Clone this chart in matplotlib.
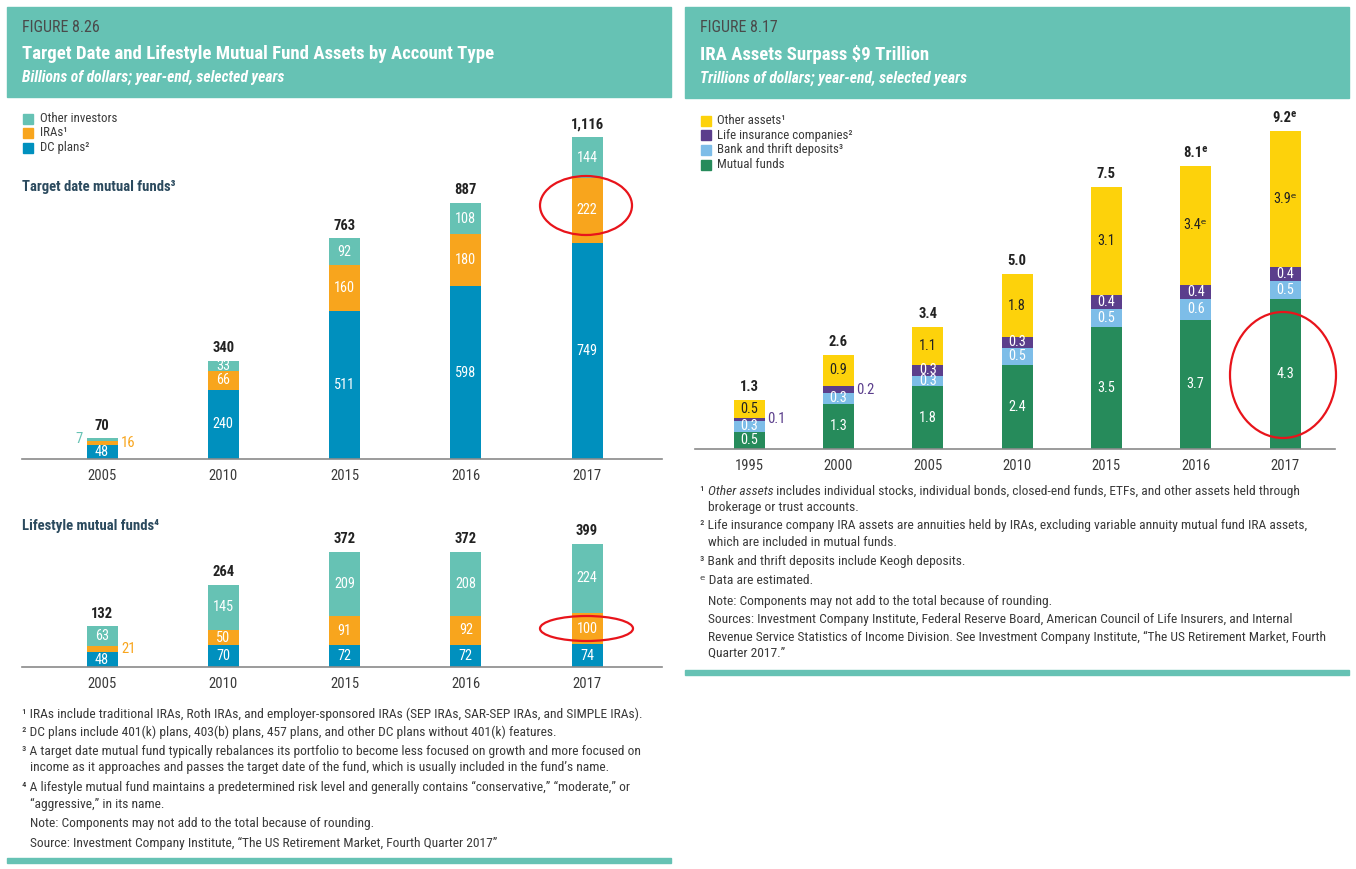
import matplotlib
matplotlib.use("Agg")
import matplotlib.pyplot as plt
from matplotlib import font_manager as fm
from matplotlib.patches import Rectangle, Ellipse

# ---------------- data ----------------
td_years = ['2005', '2010', '2015', '2016', '2017']
td_dc = [48, 240, 511, 598, 749]
td_ira = [16, 66, 160, 180, 222]
td_other = [7, 33, 92, 108, 144]
td_total = [70, 340, 763, 887, 1116]

ls_years = ['2005', '2010', '2015', '2016', '2017']
ls_dc = [48, 70, 72, 72, 74]
ls_ira = [21, 50, 91, 92, 100]
ls_other = [63, 145, 209, 208, 224]
ls_total = [132, 264, 372, 372, 399]

ira_years = ['1995', '2000', '2005', '2010', '2015', '2016', '2017']
ira_mf = [0.5, 1.3, 1.8, 2.4, 3.5, 3.7, 4.3]
ira_bank = [0.3, 0.3, 0.3, 0.5, 0.5, 0.6, 0.5]
ira_life = [0.1, 0.2, 0.3, 0.3, 0.4, 0.4, 0.4]
ira_other = [0.5, 0.9, 1.1, 1.8, 3.1, 3.4, 3.9]
ira_total = [1.3, 2.6, 3.4, 5.0, 7.5, 8.1, 9.2]
ira_estimated = [False, False, False, False, False, True, True]

# ---------------- style ----------------
avail = {f.name for f in fm.fontManager.ttflist}
base = 'DejaVu Sans'
for cand in ['Liberation Sans Narrow', 'Roboto Condensed', 'Open Sans Condensed', 'Lato']:
    if cand in avail:
        base = cand
        break
FAM = [base, 'DejaVu Sans']
plt.rcParams['font.family'] = FAM

TEAL = '#66C2B4'
ORANGE = '#F8A51D'
BLUE = '#0090BE'
YELLOW = '#FDD20B'
PURPLE = '#5B3E8C'
LBLUE = '#7DBDE8'
GREEN = '#268B5B'
TXT = '#3a3a3a'
DARK = '#222222'
SEC = '#2b4a5e'

W, H = 1356, 869
fig = plt.figure(figsize=(W / 100, H / 100), dpi=100)
fig.patch.set_facecolor('white')


def fx(x):
    return x / W


def fy(y):
    return 1 - y / H


def ftext(x, y, s, **kw):
    kw.setdefault('va', 'center')
    kw.setdefault('ha', 'left')
    return fig.text(fx(x), fy(y), s, **kw)


def frect(x0, y0, x1, y1, color):
    fig.patches.append(Rectangle((fx(x0), fy(y1)), (x1 - x0) / W, (y1 - y0) / H,
                                 transform=fig.transFigure, color=color, zorder=0))


def fell(cx, cy, w, h):
    fig.patches.append(Ellipse((fx(cx), fy(cy)), w / W, h / H, transform=fig.transFigure,
                               fill=False, edgecolor='#E8141B', lw=1.6, zorder=10))


def make_ax(left, right, top, base_y, centers, scale):
    n = len(centers)
    sp = (centers[-1] - centers[0]) / (n - 1)
    ax = fig.add_axes([fx(left), fy(base_y), (right - left) / W, (base_y - top) / H])
    ax.set_xlim(-(centers[0] - left) / sp, (right - centers[0]) / sp)
    ax.set_ylim(0, (base_y - top) / scale)
    ax.patch.set_alpha(0)
    for s in ['top', 'right', 'left']:
        ax.spines[s].set_visible(False)
    ax.spines['bottom'].set_color('#8a8a8a')
    ax.spines['bottom'].set_linewidth(1.2)
    ax.set_yticks([])
    ax.tick_params(axis='x', length=0, pad=7, labelsize=10.5, labelcolor=TXT)
    return ax, sp


# ---------------- headers ----------------
frect(7, 7, 671, 97, TEAL)
frect(685, 7, 1349, 98, TEAL)
ftext(22, 28, 'FIGURE 8.26', fontsize=11.5, color='#4a4a4a')
ftext(22, 54, 'Target Date and Lifestyle Mutual Fund Assets by Account Type', fontsize=13.5,
      color='white', fontweight='bold')
ftext(22, 77, 'Billions of dollars; year-end, selected years', fontsize=11.2, color='white',
      fontweight='bold', style='italic')
ftext(700, 28, 'FIGURE 8.17', fontsize=11.5, color='#4a4a4a')
ftext(700, 55, 'IRA Assets Surpass $9 Trillion', fontsize=13.5, color='white', fontweight='bold')
ftext(700, 78, 'Trillions of dollars; year-end, selected years', fontsize=11.2, color='white',
      fontweight='bold', style='italic')

# bottom rules
frect(7, 858, 671, 863, TEAL)
frect(685, 670, 1349, 675, TEAL)

# ---------------- legends ----------------
for (lab, col), yy in zip([('Other investors', TEAL), ('IRAs¹', ORANGE), ('DC plans²', BLUE)],
                          [119, 133, 148]):
    frect(23, yy - 5, 33, yy + 5, col)
    ftext(40, yy, lab, fontsize=9.3, color=TXT)
for (lab, col), yy in zip([('Other assets¹', YELLOW), ('Life insurance companies²', PURPLE),
                           ('Bank and thrift deposits³', LBLUE), ('Mutual funds', GREEN)],
                          [121, 135, 150, 165]):
    frect(701, yy - 5, 711, yy + 5, col)
    ftext(717, yy, lab, fontsize=9.3, color=TXT)

ftext(22, 187, 'Target date mutual funds³', fontsize=10.6, color=SEC, fontweight='bold')
ftext(22, 526, 'Lifestyle mutual funds⁴', fontsize=10.6, color=SEC, fontweight='bold')

LBL = dict(fontsize=10.3, ha='center', va='center')

CUR = {'ira': False}


def fmt(v):
    return f'{v:.1f}' if isinstance(v, float) else f'{v:,}'


def ira_flag(i):
    return CUR['ira'] and ira_estimated[i]


def stacked(ax, sp, bw_px, series, colors, txtcolors, totals, total_fmt, outside):
    n = len(series[0])
    bw = bw_px / sp
    x = list(range(n))
    bottoms = [0] * n
    for k, (vals, col, tc) in enumerate(zip(series, colors, txtcolors)):
        ax.bar(x, vals, bw, bottom=bottoms, color=col, linewidth=0)
        for i, v in enumerate(vals):
            mid = bottoms[i] + v / 2
            key = (k, i)
            if key in outside:
                side, ocol = outside[key]
                if side == 'r':
                    ax.text(i + bw / 2 + 0.03, mid, fmt(v), color=ocol, fontsize=10.5,
                            ha='left', va='center')
                else:
                    ax.text(i - bw / 2 - 0.03, mid, fmt(v), color=ocol, fontsize=10.5,
                            ha='right', va='center')
            else:
                lab = fmt(v)
                if k == len(series) - 1 and ira_flag(i):
                    lab += 'ᵉ'
                ax.text(i, mid, lab, color=tc, **LBL)
        bottoms = [b + v for b, v in zip(bottoms, vals)]
    for i, t in enumerate(totals):
        ax.annotate(total_fmt(t, i) if total_fmt else f'{t:,}', (i, bottoms[i]),
                    xytext=(0, 4), textcoords='offset points', ha='center', va='bottom',
                    fontsize=10.5, fontweight='bold', color=DARK)
    ax.set_xticks(x)


# ---------------- top-left chart ----------------
ax1, sp1 = make_ax(22, 662, 105, 459, [102, 223, 344, 466, 587], 0.289)
CUR['ira'] = False
stacked(ax1, sp1, 31, [td_dc, td_ira, td_other], [BLUE, ORANGE, TEAL], ['white'] * 3,
        td_total, None, {(1, 0): ('r', ORANGE), (2, 0): ('l', TEAL)})
ax1.set_xticklabels(td_years)

# ---------------- bottom-left chart ----------------
ax2, sp2 = make_ax(22, 662, 500, 667, [102, 223, 344, 466, 587], 0.31)
stacked(ax2, sp2, 31, [ls_dc, ls_ira, ls_other], [BLUE, ORANGE, TEAL], ['white'] * 3,
        ls_total, None, {(1, 0): ('r', ORANGE)})
ax2.set_xticklabels(ls_years)

# ---------------- right chart ----------------
ax3, sp3 = make_ax(695, 1335, 105, 449, [749, 838, 928, 1017, 1107, 1196, 1285], 35.0)
CUR['ira'] = True


def ira_total_fmt(t, i):
    return f'{t:.1f}' + ('ᵉ' if ira_estimated[i] else '')


stacked(ax3, sp3, 31, [ira_mf, ira_bank, ira_life, ira_other], [GREEN, LBLUE, PURPLE, YELLOW],
        ['white', 'white', 'white', DARK], ira_total, ira_total_fmt,
        {(2, 0): ('r', PURPLE), (2, 1): ('r', PURPLE)})
ax3.set_xticklabels(ira_years)

# ---------------- annotation ellipses ----------------
fell(586, 205.5, 92, 59)
fell(586.5, 628.5, 93, 25)
fell(1283, 375, 106, 126)

# ---------------- footnotes ----------------
FN = dict(fontsize=9.7, color=TXT)
left_notes = [
    (22, 714, '¹ IRAs include traditional IRAs, Roth IRAs, and employer-sponsored IRAs (SEP IRAs, SAR-SEP IRAs, and SIMPLE IRAs).'),
    (22, 732, '² DC plans include 401(k) plans, 403(b) plans, 457 plans, and other DC plans without 401(k) features.'),
    (22, 751, '³ A target date mutual fund typically rebalances its portfolio to become less focused on growth and more focused on'),
    (30, 768, 'income as it approaches and passes the target date of the fund, which is usually included in the fund’s name.'),
    (22, 787, '⁴ A lifestyle mutual fund maintains a predetermined risk level and generally contains “conservative,” “moderate,” or'),
    (30, 804, '“aggressive,” in its name.'),
    (30, 823, 'Note: Components may not add to the total because of rounding.'),
    (30, 843, 'Source: Investment Company Institute, “The US Retirement Market, Fourth Quarter 2017”'),
]
for x, y, s in left_notes:
    ftext(x, y, s, **FN)

fig.canvas.draw()
r = fig.canvas.get_renderer()
t1 = ftext(700, 491, '¹ ', **FN)
w1 = t1.get_window_extent(r).width
t2 = ftext(700 + w1, 491, 'Other assets', style='italic', **FN)
w2 = t2.get_window_extent(r).width
ftext(700 + w1 + w2, 491, ' includes individual stocks, individual bonds, closed-end funds, ETFs, and other assets held through', **FN)
right_notes = [
    (708, 507, 'brokerage or trust accounts.'),
    (700, 526, '² Life insurance company IRA assets are annuities held by IRAs, excluding variable annuity mutual fund IRA assets,'),
    (708, 542, 'which are included in mutual funds.'),
    (700, 561, '³ Bank and thrift deposits include Keogh deposits.'),
    (700, 581, 'ᵉ Data are estimated.'),
    (708, 601, 'Note: Components may not add to the total because of rounding.'),
    (708, 620, 'Sources: Investment Company Institute, Federal Reserve Board, American Council of Life Insurers, and Internal'),
    (708, 637, 'Revenue Service Statistics of Income Division. See Investment Company Institute, “The US Retirement Market, Fourth'),
    (708, 653, 'Quarter 2017.”'),
]
for x, y, s in right_notes:
    ftext(x, y, s, **FN)

fig.savefig('out.png', dpi=100, facecolor='white')
